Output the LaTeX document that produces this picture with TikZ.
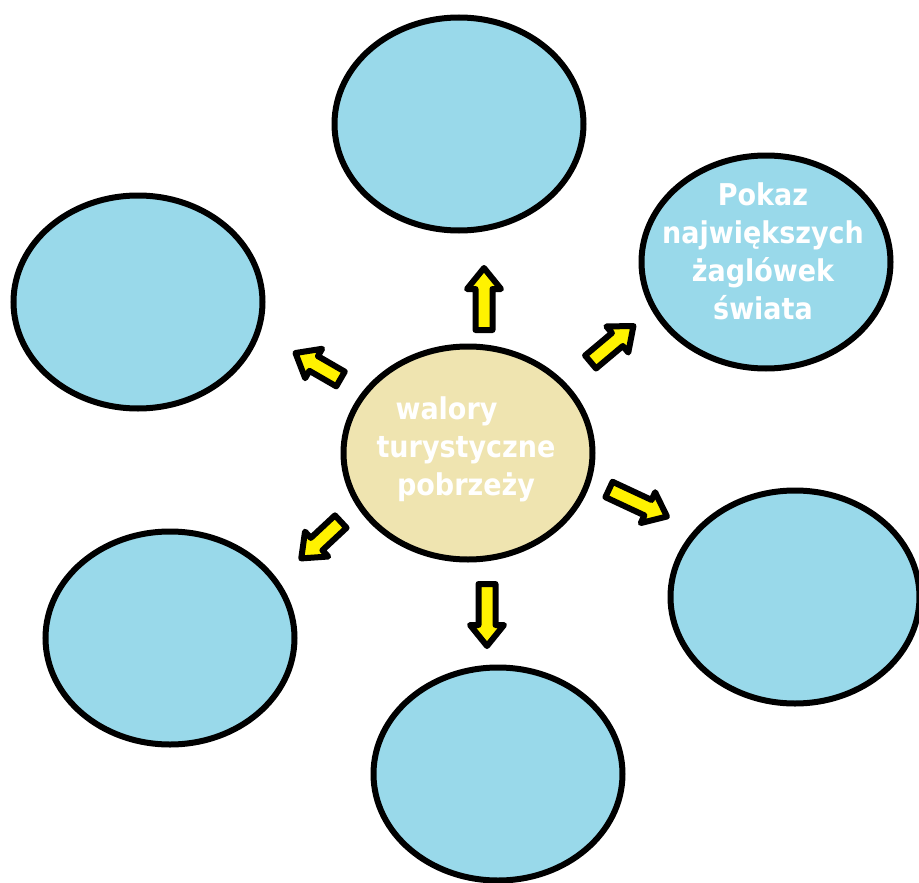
\documentclass[tikz,border=0pt]{standalone}
\usepackage{fontspec}
\setmainfont{DejaVu Sans}
\newfontfamily\labelfont{DejaVu Sans Condensed}
\usetikzlibrary{shapes.geometric}
\definecolor{skyfill}{RGB}{153,217,234}
\definecolor{sandfill}{RGB}{239,228,176}
\definecolor{arrowyellow}{RGB}{255,242,0}
\begin{document}
\begin{tikzpicture}[x=1pt, y=-1pt,
    bubble/.style={ellipse, draw=black, line width=6pt, fill=skyfill,
      minimum width=249pt, minimum height=213pt, inner sep=0pt},
    hub/.style={bubble, fill=sandfill},
    pointer/.style={draw=black, line width=6pt, line join=round, fill=arrowyellow},
    caption/.style={text=white, align=center, font=\labelfont\bfseries\fontsize{30}{38}\selectfont}]
  \useasboundingbox (0,0) rectangle (919,883);
  \clip (0,0) rectangle (919,883);

  % centre and the six bubbles round it
  \node[hub] (centre) at (468,453) {};
  \node[bubble] (top) at (459,124) {};
  \node[bubble] (topright) at (766,262) {};
  \node[bubble] (left) at (138,302) {};
  \node[bubble] (right) at (795,597) {};
  \node[bubble] (bottomleft) at (170,638) {};
  \node[bubble] (bottom) at (498,774) {};

  % texts
  \node[caption] (hubtext) at (466,449) {walory\hspace*{1.3em}\\turystyczne\\pobrzeży};
  \node[caption] (showtext) at (763,251) {Pokaz\\największych\\żaglówek\\świata};

  % block arrows pointing outwards (centre x, centre y, angle, length)
  \foreach \cx/\cy/\ang/\len in {484/299/90/62, 487/615/-90/62, 612/344/40/56,
      318/366/150/52, 321/540/223/54, 638/503/-25/64} {
    \begin{scope}[shift={(\cx,\cy)}, rotate=\ang]
      \draw[pointer] ({-\len/2},-8.5) -- ({\len/2-21},-8.5) -- ({\len/2-21},-17)
        -- ({\len/2},0) -- ({\len/2-21},17) -- ({\len/2-21},8.5)
        -- ({-\len/2},8.5) -- cycle;
    \end{scope}
  }
\end{tikzpicture}
\end{document}
